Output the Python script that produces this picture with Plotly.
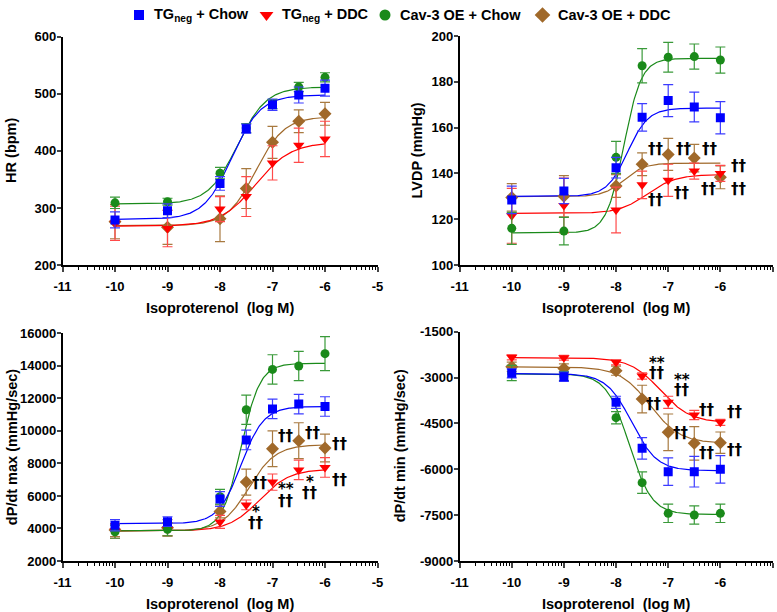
import numpy as np
import plotly.graph_objects as go

W, H = 777, 612

# ---------------- data ----------------
log_iso = [-10, -9, -8, -7.5, -7, -6.5, -6]
series_names = ["TG<sub>neg</sub> + Chow", "TG<sub>neg</sub> + DDC",
                "Cav-3 OE + Chow", "Cav-3 OE + DDC"]
colors = ["#0000ff", "#ff0000", "#1a8a1a", "#a0692a"]
err_colors = ["#3c3cff", "#ff4a4a", "#3a9a3a", "#a87a40"]
symbols = ["square", "triangle-down", "circle", "diamond"]
sizes = [9, 10, 9, 10]

# Heart rate (bpm)
hr_tg_chow = [279, 295, 343, 439, 481, 498, 510]
hr_tg_chow_err = [14, 12, 12, 8, 10, 14, 14]
hr_tg_ddc = [273, 264, 298, 320, 379, 410, 421]
hr_tg_ddc_err = [30, 32, 22, 35, 30, 30, 31]
hr_oe_chow = [309, 311, 361, 440, 482, 512, 529]
hr_oe_chow_err = [10, 6, 10, 8, 8, 8, 8]
hr_oe_ddc = [276, 266, 281, 334, 415, 452, 465]
hr_oe_ddc_err = [30, 30, 40, 35, 28, 20, 20]
# fitted curve parameters: bottom, top, logEC50, hill slope
hr_fit_tg_chow = [280, 498, -7.77, 1.6]
hr_fit_tg_ddc = [268, 415, -7.32, 1.3]
hr_fit_oe_chow = [307, 512, -7.67, 1.57]
hr_fit_oe_ddc = [269, 460, -7.32, 1.6]

# LVDP (mmHg)
lvdp_tg_chow = [128.4, 132.3, 142.5, 164.5, 171.8, 169.0, 164.3]
lvdp_tg_chow_err = [6, 5.5, 4.5, 6, 7, 6.5, 7]
lvdp_tg_ddc = [121.5, 126.0, 124.0, 135.0, 137.0, 141.0, 140.0]
lvdp_tg_ddc_err = [12, 12, 10, 6, 7, 3.5, 3.5]
lvdp_oe_chow = [116.0, 114.8, 147.0, 187.0, 190.7, 191.0, 189.5]
lvdp_oe_chow_err = [7, 6, 7, 7.5, 6.5, 5.5, 5.7]
lvdp_oe_ddc = [129.5, 130.0, 134.5, 144.0, 148.3, 146.7, 138.3]
lvdp_oe_ddc_err = [6, 9, 5, 5, 7, 6, 5]
lvdp_fit_tg_chow = [130, 168.5, -7.78, 2.2]
lvdp_fit_tg_ddc = [122.5, 139.5, -7.4, 1.6]
lvdp_fit_oe_chow = [114, 190.2, -7.85, 2.6]
lvdp_fit_oe_ddc = [129.8, 144.5, -7.85, 2.2]

# dP/dt max (mmHg/sec)
dpmax_tg_chow = [4200, 4420, 5814, 9441, 11350, 11650, 11500]
dpmax_tg_chow_err = [350, 300, 450, 600, 600, 600, 600]
dpmax_tg_ddc = [3850, 3950, 4400, 5450, 6850, 7600, 7750]
dpmax_tg_ddc_err = [450, 400, 400, 300, 500, 600, 600]
dpmax_oe_chow = [3800, 3950, 5950, 11300, 13780, 13990, 14750]
dpmax_oe_chow_err = [400, 400, 450, 900, 900, 900, 1050]
dpmax_oe_ddc = [3900, 4050, 5050, 6850, 8900, 9400, 8950]
dpmax_oe_ddc_err = [400, 500, 400, 800, 1100, 1100, 850]
dpmax_fit_tg_chow = [4300, 11500, -7.6, 2.0]
dpmax_fit_tg_ddc = [3850, 7650, -7.25, 1.5]
dpmax_fit_oe_chow = [3850, 14150, -7.6, 2.4]
dpmax_fit_oe_ddc = [3850, 9150, -7.45, 1.7]

# dP/dt min (mmHg/sec)
dpmin_tg_chow = [-2863, -2972, -3811, -5316, -6079, -6079, -6002]
dpmin_tg_chow_err = [150, 150, 200, 350, 450, 500, 450]
dpmin_tg_ddc = [-2339, -2350, -2503, -2950, -3811, -4225, -4465]
dpmin_tg_ddc_err = [80, 80, 80, 100, 200, 150, 100]
dpmin_oe_chow = [-2850, -2950, -4312, -6438, -7441, -7496, -7441]
dpmin_oe_chow_err = [250, 150, 200, 350, 300, 300, 300]
dpmin_oe_ddc = [-2645, -2700, -2775, -3702, -4792, -5152, -5130]
dpmin_oe_ddc_err = [150, 150, 150, 450, 600, 550, 350]
dpmin_fit_tg_chow = [-2870, -6050, -7.7, 1.8]
dpmin_fit_tg_ddc = [-2350, -4480, -7.15, 1.5]
dpmin_fit_oe_chow = [-2880, -7480, -7.75, 2.0]
dpmin_fit_oe_ddc = [-2650, -5150, -7.35, 1.5]

# significance labels: (x, y, text)
lvdp_sig = [(-7.24, 150.7, "††"), (-6.70, 150.7, "††"), (-6.19, 150.7, "††"),
            (-5.64, 143.4, "††"), (-7.24, 128.4, "††"), (-6.73, 131.6, "††"),
            (-6.22, 133.3, "††"), (-5.64, 133.3, "††")]
dpmax_sig = [(-6.74, 9690, "††"), (-6.23, 9890, "††"), (-5.71, 9200, "††"),
             (-7.24, 6820, "††"), (-6.74, 6410, "**"), (-6.74, 5710, "††"),
             (-6.28, 6880, "*"), (-6.28, 6200, "††"), (-5.71, 6980, "††"),
             (-7.31, 5040, "*"), (-7.31, 4320, "††")]
dpmin_sig = [(-7.21, -2514, "**"), (-7.21, -2861, "††"), (-6.73, -3080, "**"),
             (-6.73, -3407, "††"), (-6.26, -4061, "††"), (-5.71, -4117, "††"),
             (-7.27, -3865, "††"), (-6.76, -4804, "††"), (-6.26, -5478, "††"),
             (-5.71, -5360, "††")]

# tick labels
x_ticks = [-11, -10, -9, -8, -7, -6, -5]
x_tick_labels = ["-11", "-10", "-9", "-8", "-7", "-6", "-5"]
hr_ticks = [200, 300, 400, 500, 600]
hr_tick_labels = ["200", "300", "400", "500", "600"]
lvdp_ticks = [100, 120, 140, 160, 180, 200]
lvdp_tick_labels = ["100", "120", "140", "160", "180", "200"]
dpmax_ticks = [2000, 4000, 6000, 8000, 10000, 12000, 14000, 16000]
dpmax_tick_labels = ["2000", "4000", "6000", "8000", "10000", "12000", "14000", "16000"]
dpmin_ticks = [-9000, -7500, -6000, -4500, -3000, -1500]
dpmin_tick_labels = ["-9000", "-7500", "-6000", "-4500", "-3000", "-1500"]

panels = [
    dict(name="HR (bpm)", vals=[hr_tg_chow, hr_tg_ddc, hr_oe_chow, hr_oe_ddc],
         errs=[hr_tg_chow_err, hr_tg_ddc_err, hr_oe_chow_err, hr_oe_ddc_err],
         fits=[hr_fit_tg_chow, hr_fit_tg_ddc, hr_fit_oe_chow, hr_fit_oe_ddc],
         yr=[200, 600], tv=hr_ticks, tt=hr_tick_labels, sig=[],
         px=(62.5, 377.5), py=(36.8, 265), title_x=11),
    dict(name="LVDP (mmHg)", vals=[lvdp_tg_chow, lvdp_tg_ddc, lvdp_oe_chow, lvdp_oe_ddc],
         errs=[lvdp_tg_chow_err, lvdp_tg_ddc_err, lvdp_oe_chow_err, lvdp_oe_ddc_err],
         fits=[lvdp_fit_tg_chow, lvdp_fit_tg_ddc, lvdp_fit_oe_chow, lvdp_fit_oe_ddc],
         yr=[100, 200], tv=lvdp_ticks, tt=lvdp_tick_labels, sig=lvdp_sig,
         px=(459.6, 772.5), py=(36, 265), title_x=416),
    dict(name="dP/dt max (mmHg/sec)", vals=[dpmax_tg_chow, dpmax_tg_ddc, dpmax_oe_chow, dpmax_oe_ddc],
         errs=[dpmax_tg_chow_err, dpmax_tg_ddc_err, dpmax_oe_chow_err, dpmax_oe_ddc_err],
         fits=[dpmax_fit_tg_chow, dpmax_fit_tg_ddc, dpmax_fit_oe_chow, dpmax_fit_oe_ddc],
         yr=[2000, 16000], tv=dpmax_ticks, tt=dpmax_tick_labels, sig=dpmax_sig,
         px=(62.5, 377.5), py=(333.3, 561), title_x=12),
    dict(name="dP/dt min (mmHg/sec)", vals=[dpmin_tg_chow, dpmin_tg_ddc, dpmin_oe_chow, dpmin_oe_ddc],
         errs=[dpmin_tg_chow_err, dpmin_tg_ddc_err, dpmin_oe_chow_err, dpmin_oe_ddc_err],
         fits=[dpmin_fit_tg_chow, dpmin_fit_tg_ddc, dpmin_fit_oe_chow, dpmin_fit_oe_ddc],
         yr=[-9000, -1500], tv=dpmin_ticks, tt=dpmin_tick_labels, sig=dpmin_sig,
         px=(459.6, 772.5), py=(331.7, 561), title_x=400),
]

FONT = "Liberation Sans, Arial, sans-serif"
SIGFONT = "DejaVu Sans, Liberation Sans, sans-serif"
minor_vals = [d + np.log10(k) for d in range(-11, -5) for k in range(2, 10)]
curve_x = np.linspace(-10, -6, 241)

fig = go.Figure()
layout = dict(width=W, height=H, margin=dict(l=0, r=0, t=0, b=0, autoexpand=False),
              paper_bgcolor="white", plot_bgcolor="rgba(0,0,0,0)", showlegend=False,
              font=dict(family=FONT, color="black"))
annotations = []
draw_order = [3, 1, 2, 0]

for i, p in enumerate(panels):
    sfx = "" if i == 0 else str(i + 1)
    xa, ya = "x" + sfx, "y" + sfx
    for s in draw_order:
        b, t, ec, h = p["fits"][s]
        cy = b + (t - b) / (1 + 10 ** ((ec - curve_x) * h))
        fig.add_trace(go.Scatter(x=curve_x, y=cy, mode="lines",
                                 line=dict(color=colors[s], width=1.2),
                                 xaxis=xa, yaxis=ya, hoverinfo="skip"))
    for s in draw_order:
        fig.add_trace(go.Scatter(
            x=log_iso, y=p["vals"][s], mode="markers", name=series_names[s],
            marker=dict(symbol=symbols[s], size=sizes[s], color=colors[s]),
            error_y=dict(type="data", array=p["errs"][s], visible=True,
                         color=err_colors[s], thickness=1.2, width=5),
            xaxis=xa, yaxis=ya))
    x0, x1 = p["px"]
    y0, y1 = p["py"]
    layout["xaxis" + sfx] = dict(
        domain=[x0 / W, x1 / W], range=[-11, -5], anchor=ya,
        tickmode="array", tickvals=x_ticks, ticktext=x_tick_labels,
        ticks="outside", ticklen=5, tickwidth=1.5,
        showline=True, linecolor="black", linewidth=1.5, showgrid=False, zeroline=False,
        tickfont=dict(family=FONT, size=13, color="black", weight="bold"),
        ticklabelstandoff=4,
        minor=dict(tickmode="array", tickvals=minor_vals, ticks="outside",
                   ticklen=3, tickwidth=1, tickcolor="black", showgrid=False))
    layout["yaxis" + sfx] = dict(
        domain=[1 - y1 / H, 1 - y0 / H], range=p["yr"], anchor=xa,
        tickmode="array", tickvals=p["tv"], ticktext=p["tt"],
        ticks="outside", ticklen=4, tickwidth=1.5,
        showline=True, linecolor="black", linewidth=1.5, showgrid=False, zeroline=False,
        tickfont=dict(family=FONT, size=13, color="black", weight="bold"),
        ticklabelstandoff=-2)
    annotations.append(dict(text="<b>" + p["name"] + "</b>", xref="paper", yref="paper",
                            x=p["title_x"] / W, y=1 - (y0 + y1) / 2 / H, textangle=-90,
                            showarrow=False, xanchor="center", yanchor="middle",
                            font=dict(family=FONT, size=14.5, color="black")))
    annotations.append(dict(text="<b>Isoproterenol  (log M)</b>", xref="paper", yref="paper",
                            x=(x0 + x1) / 2 / W, y=1 - (y1 + 43) / H,
                            showarrow=False, xanchor="center", yanchor="middle",
                            font=dict(family=FONT, size=14.5, color="black")))
    for (sx, sy, st) in p["sig"]:
        annotations.append(dict(text="<b>" + st + "</b>", x=sx, y=sy, xref=xa, yref=ya,
                                showarrow=False, xanchor="center", yanchor="middle",
                                font=dict(family=SIGFONT, size=15, color="black")))

# ---- custom legend drawn on a hidden pixel-scaled axis pair in the top strip ----
LEG_H = 30
legend_sym_x = [139, 266.5, 385, 542.5]
legend_y = 15
legend_sym_sizes = [10, 12, 11, 12]
for s in range(4):
    fig.add_trace(go.Scatter(x=[legend_sym_x[s]], y=[legend_y], mode="markers",
                             marker=dict(symbol=symbols[s], size=legend_sym_sizes[s],
                                         color=colors[s]),
                             xaxis="x5", yaxis="y5", hoverinfo="skip", cliponaxis=False))
    annotations.append(dict(text="<b>" + series_names[s] + "</b>", x=legend_sym_x[s] + 13,
                            y=legend_y, xref="x5", yref="y5", showarrow=False,
                            xanchor="left", yanchor="middle",
                            font=dict(family=FONT, size=14.5, color="black")))
layout["xaxis5"] = dict(domain=[0, 1], range=[0, W], visible=False, anchor="y5")
layout["yaxis5"] = dict(domain=[1 - LEG_H / H, 1], range=[LEG_H, 0], visible=False, anchor="x5")

layout["annotations"] = annotations
fig.update_layout(**layout)
fig.write_html("out.html", config={"displayModeBar": False},
               post_script="document.body.style.margin='0';document.body.style.padding='0';")
